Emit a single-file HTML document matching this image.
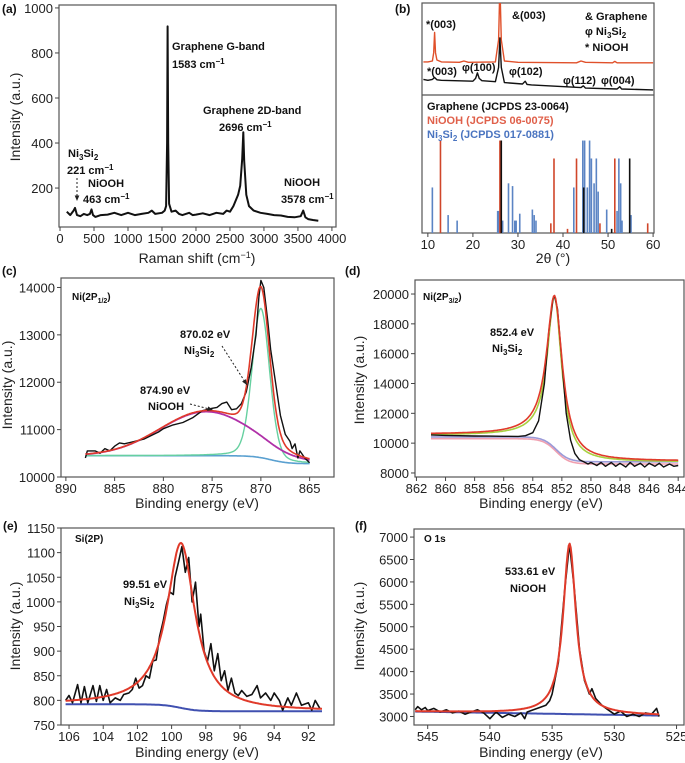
<!DOCTYPE html>
<html><head><meta charset="utf-8"><style>
body{margin:0;background:#fff;}
svg{display:block;font-family:"Liberation Sans",sans-serif;}
.t{font-size:13px;fill:#222;}
.b{font-size:11px;font-weight:bold;fill:#111;}
</style></head><body>
<svg id="fig" width="685" height="763" viewBox="0 0 685 763" xmlns="http://www.w3.org/2000/svg"></svg>
<script>
// ---- panel (a) Raman ----
const ramanX=[100,150,200,221,250,300,350,400,440,463,485,520,600,700,800,900,1000,1100,1200,1300,1350,1400,1500,1540,1560,1575,1583,1592,1605,1640,1700,1750,1800,1900,1950,2000,2100,2200,2300,2400,2450,2500,2550,2620,2650,2680,2696,2710,2740,2780,2850,2950,3050,3150,3250,3350,3450,3540,3578,3610,3650,3720,3800];
const ramanY=[95,80,100,112,80,75,85,80,85,105,80,72,80,82,90,80,90,80,85,90,100,85,90,100,120,400,918,400,130,95,100,85,80,90,80,82,88,80,90,85,100,95,120,170,210,330,448,320,170,120,100,90,85,80,78,72,70,75,100,70,62,58,55];
// ---- panel (b) XRD ----
const xrdRedX=[9,10,11,11.3,11.5,11.7,12,13,17,18,19,25,25.7,26,26.3,27,30,43,44,45,51,51.5,52,60];
const xrdRedY=[36,36,37,46,68,46,38,36,35.5,37,35.5,36,60,120,60,37,35.5,35,37,35.5,35,36.5,35,35];
const xrdBlkX=[9,10,11,11.5,12,13,20,20.6,21,21.4,22,25,25.7,26,26.3,27,31,31.6,32,33,44,44.5,45,52,52.6,53,60];
const xrdBlkY=[17,16,17,19,16.5,16,15,18,24,18,15.5,14.5,30,62,30,13.5,12,15,11.5,11,8,10,7.5,6.5,9,6.5,5.5];
const stickRedPos=[12.8,26.0,37.3,38.0,41.0,43.0,48.2,51.5,58.8];
const stickRedH=[67,67,7,54,3,54,7,54,7];
const stickBlkPos=[26.3,44.6,50.8,54.8];
const stickBlkH=[67,33,3,54];
const stickBluePos=[11,14.5,16.5,25.5,25.8,26.6,27.9,28.8,29.3,29.6,30.4,33.2,33.6,34.0,42.4,44.4,44.8,45.4,45.9,46.3,46.9,47.4,47.8,49.7,52.0,52.4,52.8,53.1,55.1];
const stickBlueH=[33,13,9,16,16,9,36,34,9,9,14,17,13,9,33,67,67,33,67,54,36,54,30,17,16,54,36,9,13];
// ---- panel (c) Ni 2p1/2 ----
const cX=[888,887.8,887,886.5,886,885.5,885,884.5,884,883,882,881,880.5,880,879,878,877,876,875,874.5,874,873.5,873,872.5,872,871.5,871,870.5,870.2,870,869.7,869.3,869,868.5,868,867.5,867,866.8,866.5,866.2,866,865.5,865];
const cY=[10400,10550,10550,10500,10600,10550,10650,10720,10700,10750,10800,10900,10950,11020,11100,11150,11250,11400,11450,11470,11550,11580,11420,11440,11550,11800,12300,13000,13800,14150,14000,13300,12700,12000,11300,10900,10750,10600,10700,10400,10550,10400,10300];
const cPeakCenter=[870.0,875.6];
const cPeakAmp=[3150,930];
const cPeakWidth=[1.05,5.2];
const cBgLeft=10450, cBgRight=10280, cBgStep=869;
// ---- panel (d) Ni 2p3/2 ----
const dX=[861,860,859,858,857,856,855,854.5,854,853.6,853.2,852.9,852.6,852.5,852.3,852.0,851.7,851.4,851.1,850.8,850.5,850.2,850,849.6,849.3,849,848.6,848.3,848,847.6,847.3,847,846.6,846.3,846,845.6,845.3,845,844.6,844.3,844];
const dY=[10550,10520,10500,10480,10470,10460,10450,10500,10700,11500,14000,17500,19700,19850,19000,15500,12000,10200,9300,8900,8750,8600,8700,8500,8700,8450,8700,8450,8650,8400,8700,8450,8650,8400,8650,8450,8650,8400,8600,8450,8500];
const dPeakCenter=852.5, dPeakAmp=10100, dPeakWidth=0.65;
const dBgBlue=[10420,8750], dBgPink=[10300,8600], dBgRed=[10600,8800];
// ---- panel (e) Si 2p ----
const eX=[106.2,106,105.8,105.5,105.3,105.1,104.9,104.6,104.4,104.2,104,103.8,103.6,103.3,103,102.8,102.5,102.3,102.1,101.9,101.7,101.5,101.3,101.1,100.9,100.7,100.5,100.3,100.1,99.9,99.8,99.6,99.4,99.2,99.0,98.8,98.6,98.4,98.3,98.1,97.9,97.7,97.5,97.3,97.1,96.9,96.7,96.5,96.3,96.1,95.9,95.6,95.3,95,94.8,94.5,94.2,94,93.7,93.5,93.2,93,92.7,92.4,92,91.8,91.6,91.3];
const eY=[800,810,795,832,795,828,795,830,798,830,800,822,795,805,800,812,815,822,845,825,830,850,845,880,882,930,960,995,1020,1015,1050,1080,1112,1060,1090,1000,1040,950,975,900,880,915,860,895,840,860,820,845,815,810,820,808,812,830,805,815,800,815,800,780,805,790,815,790,795,780,800,782];
const ePeakCenter=99.45, ePeakAmp=335, ePeakWidth=1.0;
const eBg=[792,778], eBgStep=99.5;
// ---- panel (f) O 1s ----
const fX=[546,545.8,545.5,545.2,545,544.5,544,543.5,543,542.5,542,541.5,541,540.5,540,539.5,539,538.5,538,537.5,537.2,537,536.5,536,535.5,535.2,535,534.5,534,533.6,533.2,532.8,532.4,532,531.8,531.5,531,530.5,530,529.5,529,528.5,528,527.5,527,526.6,526.4];
const fY=[3150,3220,3150,3200,3130,3180,3100,3150,3080,3120,3050,3100,3150,3080,2950,3100,2980,3050,3000,3080,2950,3100,3150,3200,3250,3350,3500,4200,5800,6850,5800,4500,3800,3500,3620,3400,3250,3150,3050,3120,3000,3050,3000,3080,3050,3180,3000];
const fPeakCenter=533.6, fPeakAmp=3800, fPeakWidth=0.62;
const fBg=[3110,3020];

const NS="http://www.w3.org/2000/svg";
const svg=document.getElementById('fig');
function mk(tag,attrs,parent){const e=document.createElementNS(NS,tag);for(const k in attrs)e.setAttribute(k,attrs[k]);(parent||svg).appendChild(e);return e;}
function txt(x,y,s,cls,anchor,name,fill){const e=mk('text',{x:x,y:y,class:cls,'text-anchor':anchor||'start'});if(fill)e.style.fill=fill;e.innerHTML=s;


return e;}
function scale(d0,d1,r0,r1){return v=>r0+(v-d0)/(d1-d0)*(r1-r0);}
function panel(name,L,R,T,B,xd,yd){
  const g=mk('g',{});
  
  
  const r=mk('rect',{x:L,y:T,width:R-L,height:B-T,fill:'none',stroke:'#555','stroke-width':1.2},g);
  
  
  return {g:g,sx:scale(xd[0],xd[1],L,R),sy:scale(yd[0],yd[1],B,T),L:L,R:R,T:T,B:B};
}
function xticks(p,vals,name){vals.forEach(v=>{const x=p.sx(v);mk('line',{x1:x,x2:x,y1:p.B,y2:p.B+4,stroke:'#444'},p.g);
const t=txt(x,p.B+16,String(v),'t','middle',name+'-tick-label');p.g.appendChild(t);});}
function yticks(p,vals,name){vals.forEach(v=>{const y=p.sy(v);mk('line',{x1:p.L-4,x2:p.L,y1:y,y2:y,stroke:'#444'},p.g);
const t=txt(p.L-6,y+5,String(v),'t','end',name+'-tick-label');p.g.appendChild(t);});}
function line(p,xs,ys,color,w,name){const d=xs.map((x,i)=>(i?'L':'M')+p.sx(x).toFixed(1)+','+p.sy(ys[i]).toFixed(1)).join('');
const e=mk('path',{d:d,fill:'none',stroke:color,'stroke-width':w,'stroke-linejoin':'round'},p.g);


return e;}
function lor(x,c,a,w){return a*w*w/((x-c)*(x-c)+w*w);}
function pv(x,c,a,w){return 0.2*lor(x,c,a,w)+0.8*a*Math.exp(-Math.pow((x-c)/w,2)*0.693);}
// l = value at high x (left side of reversed axis), r = value at low x
function sig(x,c,l,r,k){return r+(l-r)/(1+Math.exp((c-x)/k));}
function range(a,b,n){const o=[];for(let i=0;i<=n;i++)o.push(a+(b-a)*i/n);return o;}
function title(x,y,s,rot,name){const t=txt(x,y,s,'t','middle',name);t.setAttribute('style','font-size:14px');if(rot)t.setAttribute('transform','rotate(-90 '+x+' '+y+')');return t;}
function arrow(x1,y1,x2,y2,name){const e=mk('line',{x1:x1,y1:y1,x2:x2,y2:y2,stroke:'#222','stroke-width':1,'stroke-dasharray':'2,2'});


const a=Math.atan2(y2-y1,x2-x1),s=6;
const h=mk('polygon',{points:`${x2},${y2} ${x2-s*Math.cos(a-0.4)},${y2-s*Math.sin(a-0.4)} ${x2-s*Math.cos(a+0.4)},${y2-s*Math.sin(a+0.4)}`,fill:'#222'});

}

// (a)
let pa=panel('raman-panel',59,336,5,227,[-15,4060],[27,1013]);
line(pa,ramanX,ramanY,'#111',2,'raman-spectrum');
xticks(pa,[0,500,1000,1500,2000,2500,3000,3500,4000],'raman-x');
yticks(pa,[200,400,600,800,1000],'raman-y');
title(197,263,'Raman shift (cm<tspan dy="-5" font-size="9">−1</tspan><tspan dy="5">)</tspan>',false,'raman-x-title');
title(20,117,'Intensity (a.u.)',true,'raman-y-title');
txt(2,13,'(a)','b','start','panel-a-label').setAttribute('style','font-size:12px');
txt(172,50,'Graphene G-band','b','start','g-band-label');
txt(172,68,'1583 cm<tspan dy="-4" font-size="8">−1</tspan>','b','start','g-band-value');
txt(203,114,'Graphene 2D-band','b','start','2d-band-label');
txt(219,131,'2696 cm<tspan dy="-4" font-size="8">−1</tspan>','b','start','2d-band-value');
txt(68,157,'Ni<tspan font-size="8" dy="3">3</tspan><tspan dy="-3">Si</tspan><tspan font-size="8" dy="3">2</tspan>','b','start','ni3si2-raman-label');
txt(67,174,'221 cm<tspan dy="-4" font-size="8">−1</tspan>','b','start','ni3si2-raman-value');
arrow(77,178,77,201,'ni3si2-raman-arrow');
txt(88,187,'NiOOH','b','start','niooh-raman-label');
txt(83,203,'463 cm<tspan dy="-4" font-size="8">−1</tspan>','b','start','niooh-raman-value');
txt(284,186,'NiOOH','b','start','niooh-raman-label-2');
txt(281,203,'3578 cm<tspan dy="-4" font-size="8">−1</tspan>','b','start','niooh-raman-value-2');

// (b)
let pb=panel('xrd-panel',422,654,3,233,[8.7,60.2],[0,100]);
const pbTop={sx:pb.sx,sy:scale(0,100,95,3),g:pb.g};
mk('line',{x1:422,x2:654,y1:95,y2:95,stroke:'#555','stroke-width':1.2},pb.g);
const clip=mk('clipPath',{id:'cb'});mk('rect',{x:422,y:3,width:232,height:92},clip);
let rl=line(pbTop,xrdRedX,xrdRedY,'#e0502a',1.4,'xrd-sample-red');rl.setAttribute('clip-path','url(#cb)');
let bl=line(pbTop,xrdBlkX,xrdBlkY,'#111',1.4,'xrd-sample-black');bl.setAttribute('clip-path','url(#cb)');
const pbBot={sx:pb.sx,sy:scale(0,100,233,95),g:pb.g};
function sticks(pos,h,color,name){pos.forEach((v,i)=>{const e=mk('line',{x1:pb.sx(v),x2:pb.sx(v),y1:pbBot.sy(0),y2:pbBot.sy(h[i]),stroke:color,'stroke-width':1.6},pb.g);

});}
sticks(stickBluePos,stickBlueH,'#5b84c4','ni3si2-reference-stick');
sticks(stickRedPos,stickRedH,'#d0462a','niooh-reference-stick');
sticks(stickBlkPos,stickBlkH,'#111','graphene-reference-stick');
xticks(pb,[10,20,30,40,50,60],'xrd-x');
title(553,263,'2θ (°)',false,'xrd-x-title');
txt(395,13,'(b)','b','start','panel-b-label').setAttribute('style','font-size:12px');
txt(512,19,'&amp;(003)','b','start','graphene-peak-label');
txt(585,20,'&amp; Graphene','b','start','legend-graphene');
txt(585,35,'φ Ni<tspan font-size="8" dy="3">3</tspan><tspan dy="-3">Si</tspan><tspan font-size="8" dy="3">2</tspan>','b','start','legend-ni3si2');
txt(585,51,'* NiOOH','b','start','legend-niooh');
txt(426,28,'*(003)','b','start','niooh-peak-label-red');
txt(427,75,'*(003)','b','start','niooh-peak-label-black');
txt(462,71,'φ(100)','b','start','phi-100-label');
txt(509,75,'φ(102)','b','start','phi-102-label');
txt(563,84,'φ(112)','b','start','phi-112-label');
txt(601,84,'φ(004)','b','start','phi-004-label');
txt(427,110,'Graphene (JCPDS 23-0064)','b','start','graphene-jcpds-label');
txt(427,124,'NiOOH (JCPDS 06-0075)','b','start','niooh-jcpds-label','#e0604a');
txt(427,138,'Ni<tspan font-size="8" dy="3">3</tspan><tspan dy="-3">Si</tspan><tspan font-size="8" dy="3">2</tspan><tspan dy="-3"> (JCPDS 017-0881)</tspan>','b','start','ni3si2-jcpds-label','#4a74c0');

// (c)
let pc=panel('ni2p12-panel',61,334,278,477,[890.5,862.5],[10000,14200]);
const cxs=range(888,865,230);
const cBg=cxs.map(x=>sig(x,cBgStep,cBgLeft,cBgRight,0.9));
const cG=cxs.map(x=>pv(x,cPeakCenter[0],cPeakAmp[0],cPeakWidth[0]));
const cM=cxs.map(x=>cPeakAmp[1]*Math.exp(-Math.pow((x-cPeakCenter[1])/cPeakWidth[1],2)/2*1.2));
line(pc,cxs,cBg,'#5aa0d0',1.6,'ni2p12-background');
line(pc,cxs,cxs.map((x,i)=>cBg[i]+cG[i]),'#66d0a0',1.4,'ni3si2-fit-component');
line(pc,cxs,cxs.map((x,i)=>cBg[i]+cM[i]),'#b030a8',1.8,'niooh-fit-component');
line(pc,cX,cY,'#111',1.4,'ni2p12-data');
line(pc,cxs,cxs.map((x,i)=>cBg[i]+cG[i]+cM[i]),'#e03a2a',1.6,'ni2p12-envelope');
xticks(pc,[890,885,880,875,870,865],'ni2p12-x');
yticks(pc,[10000,11000,12000,13000,14000],'ni2p12-y');
title(197,508,'Binding energy (eV)',false,'ni2p12-x-title');
title(12,385,'Intensity (a.u.)',true,'ni2p12-y-title');
txt(2,275,'(c)','b','start','panel-c-label').setAttribute('style','font-size:12px');
txt(72,300,'Ni(2P<tspan font-size="7" dy="3">1/2</tspan><tspan dy="-3">)</tspan>','b','start','ni2p12-title').setAttribute('style','font-size:10px');
txt(180,338,'870.02 eV','b','start','ni3si2-peak-label');
txt(184,354,'Ni<tspan font-size="8" dy="3">3</tspan><tspan dy="-3">Si</tspan><tspan font-size="8" dy="3">2</tspan>','b','start','ni3si2-peak-name');
arrow(222,346,247,385,'ni3si2-peak-arrow');
txt(140,394,'874.90 eV','b','start','niooh-peak-label');
txt(148,410,'NiOOH','b','start','niooh-peak-name');
arrow(190,404,213,410,'niooh-peak-arrow');

// (d)
let pd=panel('ni2p32-panel',415,684,280,477,[862.1,843.6],[7730,20940]);
const dxs=range(861,844,240);
function dbg(x,b){return sig(x,852.4,b[0],b[1],0.45);}
line(pd,dxs,dxs.map(x=>dbg(x,dBgPink)),'#f0a0b0',1.6,'ni2p32-background-pink');
line(pd,dxs,dxs.map(x=>dbg(x,dBgBlue)),'#9a9ad8',1.6,'ni2p32-background-blue');
line(pd,dxs,dxs.map(x=>dbg(x,dBgRed)-60+lor(x,dPeakCenter,dPeakAmp,dPeakWidth*0.9)),'#a8d040',1.6,'ni2p32-fit-component');
line(pd,dX,dY,'#111',1.4,'ni2p32-data');
line(pd,dxs,dxs.map(x=>dbg(x,dBgRed)+lor(x,dPeakCenter,dPeakAmp,dPeakWidth)),'#e03a2a',1.6,'ni2p32-envelope');
xticks(pd,[862,860,858,856,854,852,850,848,846,844],'ni2p32-x');
yticks(pd,[8000,10000,12000,14000,16000,18000,20000],'ni2p32-y');
title(541,508,'Binding energy (eV)',false,'ni2p32-x-title');
title(364,380,'Intensity (a.u.)',true,'ni2p32-y-title');
txt(345,275,'(d)','b','start','panel-d-label').setAttribute('style','font-size:12px');
txt(423,300,'Ni(2P<tspan font-size="7" dy="3">3/2</tspan><tspan dy="-3">)</tspan>','b','start','ni2p32-title').setAttribute('style','font-size:10px');
txt(490,336,'852.4 eV','b','start','ni2p32-peak-label');
txt(492,352,'Ni<tspan font-size="8" dy="3">3</tspan><tspan dy="-3">Si</tspan><tspan font-size="8" dy="3">2</tspan>','b','start','ni2p32-peak-name');

// (e)
let pe=panel('si2p-panel',61,334,528,725,[106.47,90.5],[750,1150]);
const exs=range(106.2,91.2,220);
const eB=exs.map(x=>sig(x,eBgStep,eBg[0],eBg[1],0.5));
line(pe,exs,eB,'#4050b0',2,'si2p-background');
line(pe,eX,eY,'#111',1.6,'si2p-data');
line(pe,exs,exs.map((x,i)=>eB[i]+lor(x,ePeakCenter,ePeakAmp,ePeakWidth)),'#e03a2a',2,'si2p-fit');
xticks(pe,[106,104,102,100,98,96,94,92],'si2p-x');
yticks(pe,[750,800,850,900,950,1000,1050,1100,1150],'si2p-y');
title(197,757,'Binding energy (eV)',false,'si2p-x-title');
title(20,626,'Intensity (a.u.)',true,'si2p-y-title');
txt(3,530,'(e)','b','start','panel-e-label').setAttribute('style','font-size:12px');
txt(75,542,'Si(2P)','b','start','si2p-title').setAttribute('style','font-size:10px');
txt(123,588,'99.51 eV','b','start','si2p-peak-label');
txt(124,605,'Ni<tspan font-size="8" dy="3">3</tspan><tspan dy="-3">Si</tspan><tspan font-size="8" dy="3">2</tspan>','b','start','si2p-peak-name');

// (f)
let pf=panel('o1s-panel',414,684,529,725,[546.1,524.4],[2810,7180]);
const fxs=range(546,526.4,240);
const fB=fxs.map(x=>fBg[0]+(fBg[1]-fBg[0])*(546-x)/(546-526.4));
line(pf,fxs,fB,'#4050b0',2,'o1s-background');
line(pf,fX,fY,'#111',1.6,'o1s-data');
line(pf,fxs,fxs.map((x,i)=>fB[i]+lor(x,fPeakCenter,fPeakAmp,fPeakWidth)),'#e03a2a',2,'o1s-fit');
xticks(pf,[545,540,535,530,525],'o1s-x');
yticks(pf,[3000,3500,4000,4500,5000,5500,6000,6500,7000],'o1s-y');
title(541,757,'Binding energy (eV)',false,'o1s-x-title');
title(364,626,'Intensity (a.u.)',true,'o1s-y-title');
txt(355,530,'(f)','b','start','panel-f-label').setAttribute('style','font-size:12px');
txt(424,542,'O 1s','b','start','o1s-title').setAttribute('style','font-size:10px');
txt(505,575,'533.61 eV','b','start','o1s-peak-label');
txt(510,592,'NiOOH','b','start','o1s-peak-name');
</script>
</body></html>
